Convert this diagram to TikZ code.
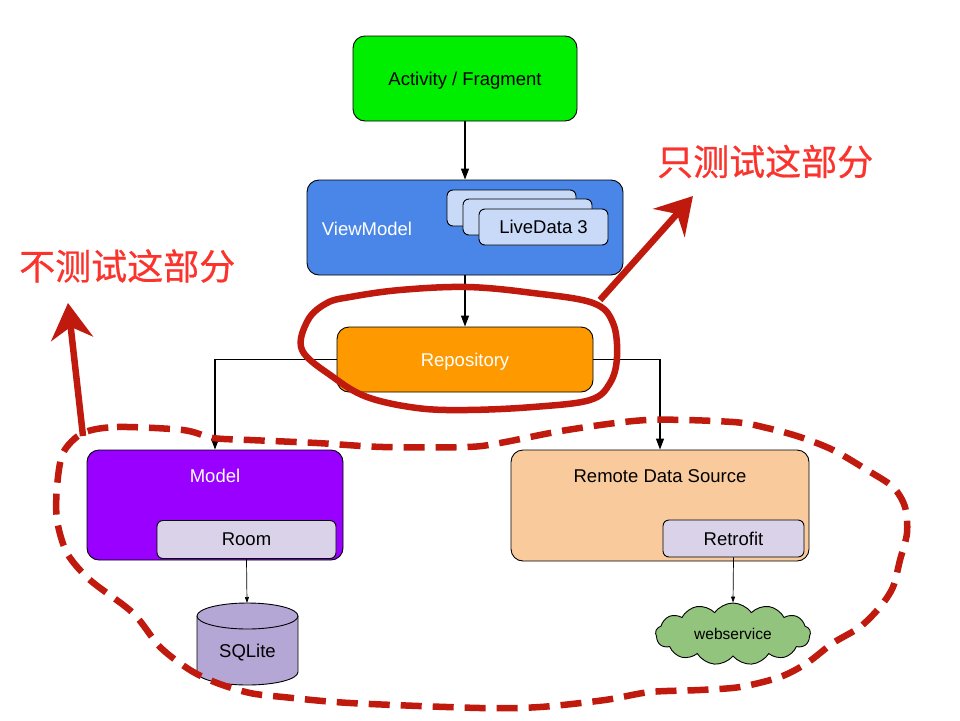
\documentclass[tikz,border=0pt]{standalone}
\usepackage{fontspec}
\setmainfont{Liberation Sans}
\newfontfamily\cjk[FakeBold=0.6]{Noto Sans CJK SC}
\usetikzlibrary{arrows.meta,shapes.symbols}
\definecolor{actgreen}{RGB}{0,238,0}
\definecolor{vmblue}{RGB}{74,134,232}
\definecolor{ldblue}{RGB}{201,218,248}
\definecolor{repoorange}{RGB}{255,153,0}
\definecolor{modelpurple}{RGB}{153,0,255}
\definecolor{roomlav}{RGB}{217,210,233}
\definecolor{remotepeach}{RGB}{249,203,156}
\definecolor{cloudgreen}{RGB}{147,196,125}
\definecolor{sqlpurple}{RGB}{180,167,214}
\definecolor{annored}{RGB}{192,26,14}
\definecolor{textred}{RGB}{250,52,45}
\begin{document}
\begin{tikzpicture}[x=1pt,y=-1pt,
  box/.style={draw=black, line width=0.9pt, rounded corners=12pt, inner sep=0pt, text depth=0pt, font=\fontsize{18.5}{22}\selectfont},
  smallbox/.style={draw=black, line width=0.9pt, rounded corners=6pt, inner sep=0pt, fill=roomlav, text depth=0pt, font=\fontsize{18.5}{22}\selectfont},
  lbl/.style={inner sep=0pt, font=\fontsize{18.5}{22}\selectfont},
  conn/.style={draw=black, line width=1.3pt, -{Triangle[length=11pt,width=8pt]}},
  thinconn/.style={draw=black, line width=0.7pt, -{Triangle[length=6pt,width=4pt]}},
  redarrow/.style={draw=annored, line width=6.5pt, -{Stealth[length=36pt,width=42pt,inset=12pt]}},
  cjktext/.style={inner sep=0pt, text=textred, font=\cjk\fontsize{36}{40}\selectfont}
]
\useasboundingbox (0,0) rectangle (960,720);

% main boxes
\node[box, fill=actgreen, minimum width=224pt, minimum height=85pt] (act) at (465,78.5) {Activity / Fragment};
\node[box, fill=vmblue, minimum width=316pt, minimum height=95pt] (vm) at (465,227.5) {};
\node[lbl, text=white] (vmlbl) at (367,228.5) {ViewModel};
\node[smallbox, fill=ldblue, minimum width=129pt, minimum height=36pt] (ld1) at (511.5,208) {};
\node[smallbox, fill=ldblue, minimum width=129pt, minimum height=36pt] (ld2) at (527.5,217) {};
\node[smallbox, fill=ldblue, minimum width=129pt, minimum height=36pt] (ld3) at (543.5,227) {LiveData 3};

\node[box, fill=repoorange, text=white, minimum width=256pt, minimum height=65pt] (repo) at (465,359.5) {Repository};

\node[box, fill=modelpurple, minimum width=256pt, minimum height=110pt] (model) at (215,505) {};
\node[lbl, text=white] (modellbl) at (215,476) {Model};
\node[smallbox, minimum width=179pt, minimum height=38pt] (room) at (246.5,539.5) {Room};

\node[box, fill=remotepeach, minimum width=298pt, minimum height=111pt] (remote) at (660,505.5) {};
\node[lbl] (remotelbl) at (660,476) {Remote Data Source};
\node[smallbox, minimum width=141pt, minimum height=37pt] (retro) at (733.5,538.5) {Retrofit};

% SQLite cylinder
\fill[sqlpurple] (197,616) -- (197,672) arc[start angle=180, end angle=0, x radius=50.5, y radius=13] -- (298,616) -- cycle;
\draw[line width=0.9pt] (197,616) -- (197,672) arc[start angle=180, end angle=0, x radius=50.5, y radius=13] -- (298,616);
\draw[line width=0.9pt, fill=sqlpurple] (247.5,616) ellipse [x radius=50.5, y radius=13];
\node[lbl] (sql) at (247.5,653) {SQLite};
\coordinate (sqltop) at (247,603);

% cloud
\node[cloud, draw=black, line width=0.9pt, fill=cloudgreen, cloud puffs=13, cloud puff arc=110, aspect=2.5, minimum width=155pt, minimum height=62pt, inner sep=0pt, font=\fontsize{15.5}{18}\selectfont] (web) at (733,634) {webservice};

% connectors
\draw[conn] (act.south) -- (vm.north);
\draw[conn] (vm.south) -- (repo.north);
\draw[conn] (repo.west) -| (model.north);
\draw[conn] (repo.east) -| (remote.north);
\draw[thinconn] (room.south) -- (sqltop);
\draw[thinconn] (retro.south) -- (web.north);

% annotations
\draw[annored, line width=6.5pt, line join=round] plot[smooth cycle, tension=0.6] coordinates {
 (350,297) (400,290) (467,287) (533,293) (593,303) (613,323) (617,357) (610,383) (590,400)
 (533,407) (467,410) (417,408) (367,397) (333,377) (302,350) (308,320) (327,303)};

\draw[annored, line width=6.5pt, dash pattern=on 21pt off 11pt] plot[smooth cycle, tension=0.5] coordinates {
 (83,433) (117,427) (183,430) (213,438) (250,440) (317,443) (383,447) (467,447) (500,443)
 (567,430) (647,420) (733,422) (767,428) (800,437) (833,450) (867,470) (893,487) (905,507)
 (907,533) (900,560) (893,587) (880,607) (860,627) (833,643) (807,663) (780,677) (740,687)
 (700,690) (650,692) (605,700) (540,707) (480,708) (350,703) (283,697) (250,693) (217,683)
 (190,670) (160,647) (133,613) (90,580) (67,553) (57,520) (57,487) (63,453)};

\coordinate (a1s) at (600,300);
\coordinate (a1e) at (693,196);
\draw[redarrow] (a1s) -- (a1e);
\coordinate (a2s) at (83,436);
\coordinate (a2e) at (68,303);
\draw[redarrow] (a2s) -- (a2e);

\node[cjktext, anchor=west] (t1) at (657,161.5) {只测试这部分};
\node[cjktext, anchor=west] (t2) at (19,266) {不测试这部分};
\end{tikzpicture}
\end{document}
